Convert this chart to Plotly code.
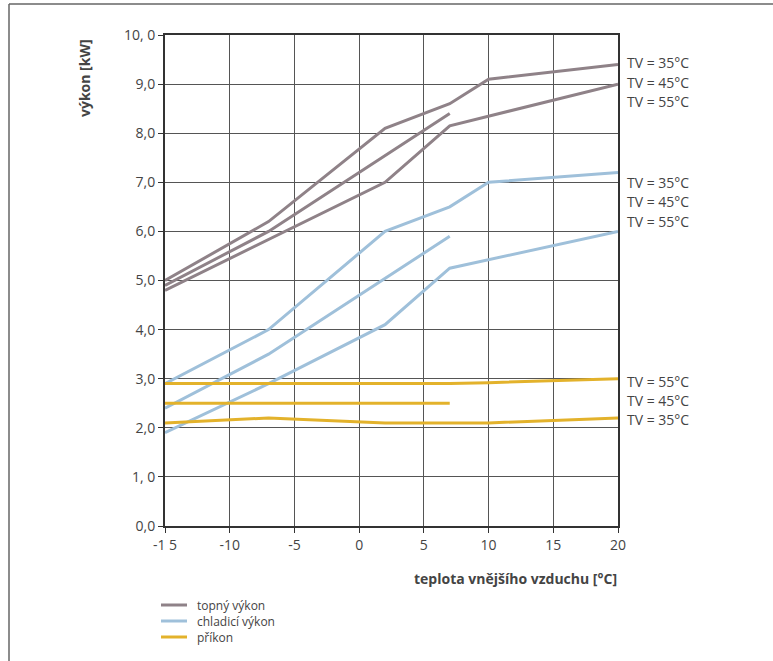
import plotly.graph_objects as go

# ---- data ----
heat_35_x = [-15, -7, 2, 7, 10, 20]
heat_35_y = [5.0, 6.2, 8.1, 8.6, 9.1, 9.4]
heat_45_x = [-15, -7, 7]
heat_45_y = [4.9, 6.0, 8.4]
heat_55_x = [-15, 2, 7, 20]
heat_55_y = [4.8, 7.0, 8.15, 9.0]

cool_35_x = [-15, -7, 2, 7, 10, 20]
cool_35_y = [2.9, 4.0, 6.0, 6.5, 7.0, 7.2]
cool_45_x = [-15, -7, 7]
cool_45_y = [2.4, 3.5, 5.9]
cool_55_x = [-15, -7, 2, 7, 20]
cool_55_y = [1.9, 2.9, 4.1, 5.25, 6.0]

pow_55_x = [-15, 7, 10, 20]
pow_55_y = [2.9, 2.9, 2.92, 3.0]
pow_45_x = [-15, 7]
pow_45_y = [2.5, 2.5]
pow_35_x = [-15, -7, 2, 10, 20]
pow_35_y = [2.1, 2.2, 2.1, 2.1, 2.2]

x_tick_vals = [-15, -10, -5, 0, 5, 10, 15, 20]
x_tick_text = ["-1 5", "-10", "-5", "0", "5", "10", "15", "20"]
y_tick_vals = [0, 1, 2, 3, 4, 5, 6, 7, 8, 9, 10]
y_tick_text = ["0,0", "1, 0", "2,0", "3,0", "4,0", "5,0", "6,0", "7,0", "8,0", "9,0", "10, 0"]

series_names = ["topný výkon", "chladicí výkon", "příkon"]
label_text = ["TV = 35°C", "TV = 45°C", "TV = 55°C",
              "TV = 35°C", "TV = 45°C", "TV = 55°C",
              "TV = 55°C", "TV = 45°C", "TV = 35°C"]
label_y = [9.43, 9.04, 8.65, 6.99, 6.6, 6.21, 2.95, 2.56, 2.17]

C_HEAT = "#8f8288"
C_COOL = "#9fc0da"
C_POW = "#e3b22b"
TXT = "#444444"
FONT = "Open Sans"
colors = [C_HEAT, C_COOL, C_POW]

fig = go.Figure()

groups = [
    (series_names[0], C_HEAT, [(heat_35_x, heat_35_y), (heat_45_x, heat_45_y), (heat_55_x, heat_55_y)]),
    (series_names[1], C_COOL, [(cool_35_x, cool_35_y), (cool_45_x, cool_45_y), (cool_55_x, cool_55_y)]),
    (series_names[2], C_POW, [(pow_55_x, pow_55_y), (pow_45_x, pow_45_y), (pow_35_x, pow_35_y)]),
]
for name, col, lines in groups:
    for i, (xs, ys) in enumerate(lines):
        fig.add_trace(go.Scatter(
            x=xs, y=ys, mode="lines", name=name, legendgroup=name,
            showlegend=False, line=dict(color=col, width=3),
            hoverinfo="skip"))

for t, yv in zip(label_text, label_y):
    fig.add_annotation(x=20, y=yv, xref="x", yref="y", text=t, showarrow=False,
                       xanchor="left", yanchor="middle", xshift=7,
                       font=dict(family=FONT, size=14, color=TXT))

W, H = 773, 661
L, T, PW, PH = 165, 35, 453, 491


def px(x):
    return (x - L) / PW


def py(y):
    return (T + PH - y) / PH


# axis titles
fig.add_annotation(x=px(85), y=py(78), xref="paper", yref="paper",
                   text="<b>výkon [kW]</b>", textangle=-90, showarrow=False,
                   xanchor="center", yanchor="middle",
                   font=dict(family=FONT, size=14, color=TXT))
fig.add_annotation(x=px(619), y=py(578), xref="paper", yref="paper",
                   text="<b>teplota vnějšího vzduchu [°C]</b>", showarrow=False,
                   xanchor="right", yanchor="middle",
                   font=dict(family=FONT, size=14, color=TXT))

# legend (drawn below the plot, compact rows like the reference)
for k, (name, col) in enumerate(zip(series_names, colors)):
    yy = 605 + 16 * k
    fig.add_shape(type="line", xref="paper", yref="paper",
                  x0=px(161), x1=px(187), y0=py(yy), y1=py(yy),
                  line=dict(color=col, width=3))
    fig.add_annotation(x=px(195), y=py(yy), xref="paper", yref="paper",
                       text=name, showarrow=False, xanchor="left", yanchor="middle",
                       font=dict(family=FONT, size=12, color=TXT))

# outer frame (left and top edges)
fig.add_shape(type="line", xref="paper", yref="paper",
              x0=px(9), x1=px(9), y0=py(4), y1=py(680),
              line=dict(color="#666666", width=1.5))
fig.add_shape(type="line", xref="paper", yref="paper",
              x0=px(9), x1=px(780), y0=py(4), y1=py(4),
              line=dict(color="#666666", width=1.5))

fig.update_xaxes(range=[-15, 20], tickvals=x_tick_vals, ticktext=x_tick_text,
                 showgrid=True, gridcolor="#555555", gridwidth=1,
                 showline=True, linecolor="#333333", linewidth=2, mirror=True,
                 ticks="outside", ticklen=5, tickcolor="#333333",
                 tickfont=dict(family=FONT, size=14, color=TXT), zeroline=False)
fig.update_yaxes(range=[0, 10], tickvals=y_tick_vals, ticktext=y_tick_text,
                 showgrid=True, gridcolor="#555555", gridwidth=1,
                 showline=True, linecolor="#333333", linewidth=2, mirror=True,
                 ticks="outside", ticklen=5, tickcolor="#333333",
                 tickfont=dict(family=FONT, size=14, color=TXT), zeroline=False)

fig.update_layout(
    width=W, height=H, autosize=False,
    margin=dict(l=L, r=W - L - PW, t=T, b=H - T - PH),
    paper_bgcolor="white", plot_bgcolor="white",
    font=dict(family=FONT, color=TXT),
    showlegend=False,
)

fig.write_html("out.html",
               config={"displayModeBar": False, "responsive": False},
               post_script="document.body.style.margin='0';document.body.style.padding='0';"
                           "document.documentElement.style.overflow='hidden';")
